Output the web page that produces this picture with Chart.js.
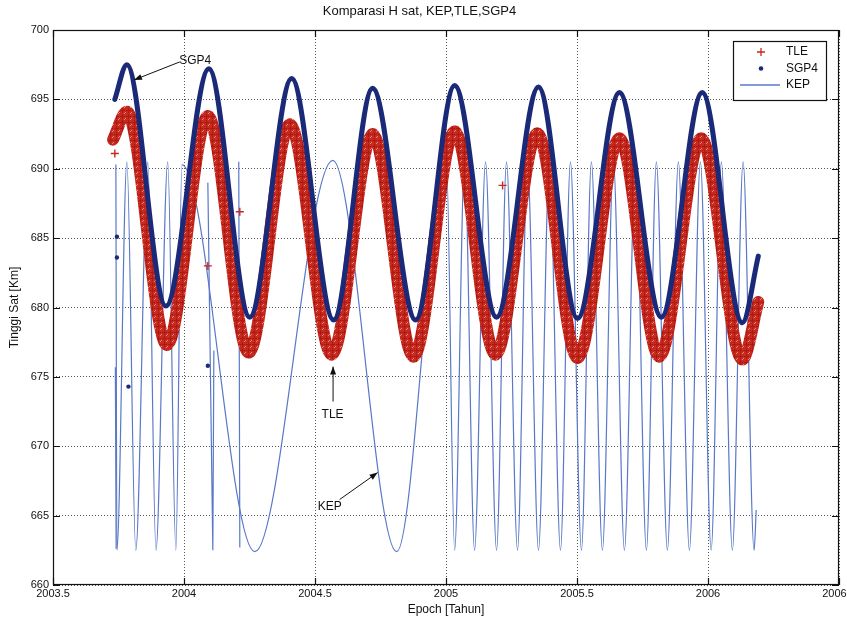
<!DOCTYPE html>
<html>
<head>
<meta charset="utf-8">
<script src="https://cdn.jsdelivr.net/npm/chart.js@4.4.1/dist/chart.umd.min.js"></script>
<style>
  html, body { margin:0; padding:0; background:#fff; }
</style>
</head>
<body>
<canvas id="hsat" width="847" height="627"></canvas>
<script>
// ═══════════════════════════════════════════════════════
//  Komparasi H sat — KEP / TLE / SGP4
// ═══════════════════════════════════════════════════════

const X_TICKS = [2003.5, 2004, 2004.5, 2005, 2005.5, 2006, 2006.5];
const Y_TICKS = [660, 665, 670, 675, 680, 685, 690, 695, 700];

// SGP4 — peaks / troughs of the blue band
const SGP4_X = [2003.736, 2003.782, 2003.931, 2004.095, 2004.251, 2004.411, 2004.571, 2004.720, 2004.884,
                2005.033, 2005.193, 2005.353, 2005.502, 2005.662, 2005.822, 2005.978, 2006.131, 2006.192];
const SGP4_Y = [695.0, 697.5, 680.1, 697.2, 679.3, 696.5, 679.1, 695.8, 679.1,
                696.0, 679.3, 695.9, 679.2, 695.5, 679.3, 695.5, 678.9, 683.7];

// TLE — centre of the red band
const TLE_X  = [2003.729, 2003.782, 2003.935, 2004.091, 2004.247, 2004.404, 2004.564, 2004.720, 2004.876,
                2005.033, 2005.189, 2005.349, 2005.502, 2005.662, 2005.814, 2005.974, 2006.131, 2006.192];
const TLE_Y  = [692.1, 694.1, 677.3, 693.8, 676.75, 693.2, 676.6, 692.5, 676.45,
                692.7, 676.6, 692.55, 676.35, 692.2, 676.45, 692.2, 676.25, 680.4];

// stray points
const TLE_OUT_X  = [2003.736, 2004.091, 2004.213, 2005.216];
const TLE_OUT_Y  = [691.1, 683.0, 686.9, 688.8];
const SGP4_OUT_X = [2003.744, 2003.744, 2003.788, 2004.091];
const SGP4_OUT_Y = [685.1, 683.6, 674.3, 675.8];

// KEP — turning points of the thin line
const KEP_X = [2003.740, 2003.744, 2003.782, 2003.816, 2003.862, 2003.893, 2003.938, 2003.969, 2003.992,
               2004.270, 2004.568, 2004.812, 2005.002,
               2005.033, 2005.071, 2005.109, 2005.151, 2005.193, 2005.231, 2005.273, 2005.311, 2005.353,
               2005.395, 2005.437, 2005.475, 2005.517, 2005.555, 2005.597, 2005.639, 2005.681, 2005.723,
               2005.765, 2005.803, 2005.845, 2005.887, 2005.929, 2005.971, 2006.012, 2006.051, 2006.093,
               2006.134, 2006.176, 2006.184];
const KEP_Y = [690.3, 662.5, 690.5, 662.5, 690.5, 662.5, 690.5, 662.5, 690.3,
               662.4, 690.6, 662.4, 690.3,
               662.5, 690.5, 662.5, 690.5, 662.5, 690.5, 662.5, 690.5, 662.5,
               690.5, 662.5, 690.5, 662.5, 690.5, 662.5, 690.5, 662.5, 690.5,
               662.5, 690.5, 662.5, 690.5, 662.5, 690.5, 662.5, 690.5, 662.5,
               690.5, 662.5, 665.4];

// KEP short spikes (separate strokes, null = break)
const KEP_SPIKE_X = [2003.738, 2003.741, null, 2004.091, 2004.110, 2004.114, null, 2004.209, 2004.213];
const KEP_SPIKE_Y = [675.7, 662.6, null, 689.0, 662.5, 676.9, null, 690.5, 662.7];

// arrows + labels (data coords)
const NOTES = [
  { text:"SGP4", tx:2004.043, ty:697.77, from:[2003.984, 697.70], to:[2003.809, 696.40] },
  { text:"TLE",  tx:2004.567, ty:672.28, from:[2004.569, 673.22], to:[2004.569, 675.74] },
  { text:"KEP",  tx:2004.556, ty:665.66, from:[2004.594, 666.16], to:[2004.739, 668.10] },
];

const FONT  = '"Liberation Sans", Arial, sans-serif';
const RED   = "#c8291f";
const NAVY  = "#1b2a78";
const KEPC  = "#5a78c8";
const INK   = "#111";

const pts = (xs, ys) => xs.map((x, i) => (x === null ? { x: null, y: null } : { x, y: ys[i] }));

// speckled red fill for the dense "+" band
function tlePattern() {
  const c = document.createElement("canvas");
  c.width = 6; c.height = 6;
  const g = c.getContext("2d");
  g.fillStyle = RED; g.fillRect(0, 0, 6, 6);
  g.fillStyle = "#ab1a12";
  g.fillRect(2, 0, 1, 5); g.fillRect(0, 2, 5, 1);
  g.fillStyle = "#e58a80";
  g.fillRect(5, 4, 1, 1); g.fillRect(4, 5, 1, 1);
  return g.createPattern(c, "repeat");
}

// ── Frame with inward ticks (all four sides) ─────────
const frameTicks = {
  id: "frameTicks",
  afterDraw(chart) {
    const { ctx, chartArea: a, scales: { x, y } } = chart;
    const L = 7;
    ctx.save();
    ctx.strokeStyle = INK;
    ctx.lineWidth = 1.2;
    ctx.strokeRect(a.left + 0.5, a.top + 0.5, a.width - 1, a.height - 1);
    ctx.beginPath();
    X_TICKS.forEach(v => {
      const px = Math.round(x.getPixelForValue(v)) + 0.5;
      ctx.moveTo(px, a.bottom); ctx.lineTo(px, a.bottom - L);
      ctx.moveTo(px, a.top);    ctx.lineTo(px, a.top + L);
    });
    Y_TICKS.forEach(v => {
      const py = Math.round(y.getPixelForValue(v)) + 0.5;
      ctx.moveTo(a.left, py);  ctx.lineTo(a.left + L, py);
      ctx.moveTo(a.right, py); ctx.lineTo(a.right - L, py);
    });
    ctx.stroke();
    ctx.restore();
  }
};

// ── Arrow annotations ────────────────────────────────
const notes = {
  id: "notes",
  afterDraw(chart) {
    const { ctx, scales: { x, y } } = chart;
    ctx.save();
    ctx.font = "12px " + FONT;
    ctx.fillStyle = INK;
    ctx.strokeStyle = INK;
    ctx.lineWidth = 1;
    ctx.textAlign = "center";
    ctx.textBaseline = "middle";
    NOTES.forEach(n => {
      ctx.fillText(n.text, x.getPixelForValue(n.tx), y.getPixelForValue(n.ty));
      const x0 = x.getPixelForValue(n.from[0]), y0 = y.getPixelForValue(n.from[1]);
      const x1 = x.getPixelForValue(n.to[0]),   y1 = y.getPixelForValue(n.to[1]);
      const ang = Math.atan2(y1 - y0, x1 - x0);
      ctx.beginPath(); ctx.moveTo(x0, y0); ctx.lineTo(x1, y1); ctx.stroke();
      ctx.beginPath();
      ctx.moveTo(x1, y1);
      ctx.lineTo(x1 - 8 * Math.cos(ang) + 3 * Math.sin(ang), y1 - 8 * Math.sin(ang) - 3 * Math.cos(ang));
      ctx.lineTo(x1 - 8 * Math.cos(ang) - 3 * Math.sin(ang), y1 - 8 * Math.sin(ang) + 3 * Math.cos(ang));
      ctx.closePath(); ctx.fill();
    });
    ctx.restore();
  }
};

// ── Boxed legend, top right inside the axes ──────────
const boxLegend = {
  id: "boxLegend",
  afterDraw(chart) {
    const { ctx, chartArea: a } = chart;
    const items = chart.data.datasets.filter(d => d.legendSymbol);
    const w = 93, h = 59;
    const left = a.right - 13 - w, top = a.top + 11;
    ctx.save();
    ctx.fillStyle = "#fff";
    ctx.fillRect(left, top, w, h);
    ctx.strokeStyle = INK;
    ctx.lineWidth = 1.2;
    ctx.strokeRect(left + 0.5, top + 0.5, w, h);
    ctx.font = "12px " + FONT;
    ctx.textBaseline = "middle";
    items.forEach((d, i) => {
      const cy = top + 11 + i * 16.5;
      const sx = left + 28;
      if (d.legendSymbol === "cross") {
        ctx.strokeStyle = d.legendColor; ctx.lineWidth = 1.3;
        ctx.beginPath();
        ctx.moveTo(sx - 4, cy); ctx.lineTo(sx + 4, cy);
        ctx.moveTo(sx, cy - 4); ctx.lineTo(sx, cy + 4);
        ctx.stroke();
      } else if (d.legendSymbol === "dot") {
        ctx.fillStyle = d.legendColor;
        ctx.beginPath(); ctx.arc(sx, cy, 2.3, 0, Math.PI * 2); ctx.fill();
      } else {
        ctx.strokeStyle = d.legendColor; ctx.lineWidth = 1.3;
        ctx.beginPath(); ctx.moveTo(left + 7, cy); ctx.lineTo(left + 47, cy); ctx.stroke();
      }
      ctx.fillStyle = INK;
      ctx.fillText(d.label, left + 53, cy);
    });
    ctx.restore();
  }
};

const tickFont = { family: FONT, size: 11 };

new Chart(document.getElementById("hsat"), {
  type: "line",
  data: {
    datasets: [
      { label:"TLE",  data: pts(TLE_X, TLE_Y),  borderColor: tlePattern(), borderWidth: 12, pointRadius: 0,
        cubicInterpolationMode: "monotone", borderJoinStyle: "round", borderCapStyle: "round",
        order: 1, legendSymbol: "cross", legendColor: RED },
      { label:"SGP4", data: pts(SGP4_X, SGP4_Y), borderColor: NAVY, borderWidth: 5, pointRadius: 0,
        cubicInterpolationMode: "monotone", borderJoinStyle: "round", borderCapStyle: "round",
        order: 0, legendSymbol: "dot", legendColor: NAVY },
      { label:"KEP",  data: pts(KEP_X, KEP_Y),  borderColor: KEPC, borderWidth: 1.2, pointRadius: 0,
        cubicInterpolationMode: "monotone", order: 2, legendSymbol: "line", legendColor: KEPC },
      { label:"KEP spikes", data: pts(KEP_SPIKE_X, KEP_SPIKE_Y), borderColor: KEPC, borderWidth: 1.2,
        pointRadius: 0, spanGaps: false, order: 2 },
      { label:"TLE stray",  data: pts(TLE_OUT_X, TLE_OUT_Y), showLine: false, pointStyle: "cross",
        pointRadius: 4, borderColor: RED, pointBorderWidth: 1.4, order: 1 },
      { label:"SGP4 stray", data: pts(SGP4_OUT_X, SGP4_OUT_Y), showLine: false, pointStyle: "circle",
        pointRadius: 2.2, backgroundColor: NAVY, borderColor: NAVY, pointBorderWidth: 0, order: 0 },
    ]
  },
  options: {
    responsive: false,
    animation: false,
    events: [],
    layout: { padding: { left: 0, right: 8, top: 0, bottom: 0 } },
    plugins: {
      legend:  { display: false },
      tooltip: { enabled: false },
      title: {
        display: true, text: "Komparasi H sat, KEP,TLE,SGP4", color: INK,
        font: { family: FONT, size: 13, weight: "normal" },
        padding: { top: 4, bottom: 10.4 }
      }
    },
    scales: {
      x: {
        type: "linear", min: 2003.5, max: 2006.5,
        afterBuildTicks: s => { s.ticks = X_TICKS.map(v => ({ value: v })); },
        afterFit: s => { s.height = 42; s.paddingRight = 0; },
        ticks: { callback: v => String(v), color: INK, font: tickFont, padding: 2, maxRotation: 0, autoSkip: false },
        grid:  { color: "#555", lineWidth: 1, drawTicks: false },
        border:{ display: false, dash: [1, 2] },
        title: { display: true, text: "Epoch [Tahun]", color: INK,
                 font: { family: FONT, size: 12 }, padding: { top: 0, bottom: 9.8 } }
      },
      y: {
        min: 660, max: 700,
        afterBuildTicks: s => { s.ticks = Y_TICKS.map(v => ({ value: v })); },
        afterFit: s => { s.width = 53; },
        ticks: { callback: v => String(v), color: INK, font: tickFont, padding: 4, autoSkip: false },
        grid:  { color: "#555", lineWidth: 1, drawTicks: false },
        border:{ display: false, dash: [1, 2] },
        title: { display: true, text: "Tinggi Sat [Km]", color: INK,
                 font: { family: FONT, size: 12 }, padding: { top: 7.8, bottom: 0 } }
      }
    }
  },
  plugins: [frameTicks, notes, boxLegend]
});
</script>
</body>
</html>
